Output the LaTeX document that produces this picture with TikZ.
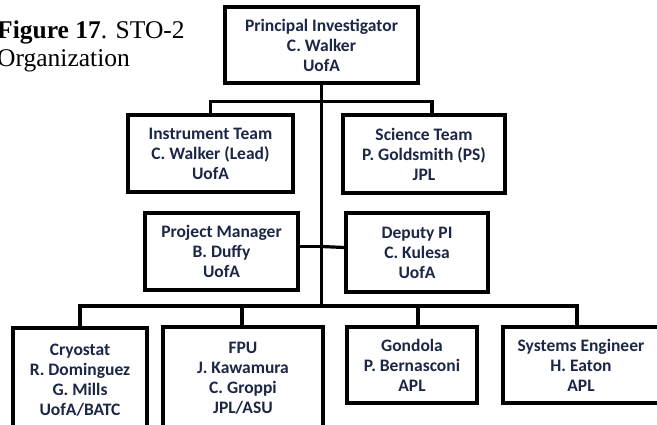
\documentclass[tikz,border=0pt]{standalone}
\usepackage{fontspec}
\newfontfamily\orgfont{Carlito}
\newfontfamily\capfont{Liberation Serif}
\definecolor{orgnavy}{RGB}{28,38,70}
\tikzset{
  orgbox/.style={draw, line width=3.6pt, fill=white, align=center, inner sep=0pt,
    text=orgnavy, font=\orgfont\bfseries\fontsize{17.5}{20}\selectfont},
  orgline/.style={line width=3.2pt},
  captext/.style={align=left, inner sep=0pt, font=\capfont\fontsize{25.5}{28}\selectfont},
}

\begin{document}
\begin{tikzpicture}[x=1pt,y=-1pt]
			\useasboundingbox (0,0) rectangle (657,425);
			\clip (0,0) rectangle (657,425);
			
			% Caption
			\node[captext, anchor=north west] (cap) at (-3,21) {\textbf{Figure 17}. STO-2\\Organization};
			
			% Top level
			\node[orgbox, minimum width=193, minimum height=76] (pi) at (321.5,45) {Principal Investigator\\C. Walker\\UofA};
			
			% Teams
			\node[orgbox, minimum width=165, minimum height=77] (inst) at (210.5,153.5) {Instrument Team\\C. Walker (Lead)\\UofA};
			\node[orgbox, minimum width=162, minimum height=78] (sci) at (424,154) {Science Team\\P. Goldsmith (PS)\\JPL};
			
			% Management
			\node[orgbox, minimum width=153, minimum height=77] (pm) at (221.5,251.5) {Project Manager\\B. Duffy\\UofA};
			\node[orgbox, minimum width=142, minimum height=79] (dep) at (417,252.5) {Deputy PI\\C. Kulesa\\UofA};
			
			% Subsystems (bottom row runs off the page)
			\node[orgbox, minimum width=134, minimum height=104] (cryo) at (80,380) {Cryostat\\R. Dominguez\\G. Mills\\UofA/BATC};
			\node[orgbox, minimum width=160, minimum height=102] (fpu) at (243,378) {FPU\\J. Kawamura\\C. Groppi\\JPL/ASU};
			\node[orgbox, minimum width=130, minimum height=76] (gon) at (412,365) {Gondola\\P. Bernasconi\\APL};
			\node[orgbox, minimum width=156, minimum height=76] (se) at (581,365) {Systems Engineer\\H. Eaton\\APL};
			
			% Connectors
			\coordinate (bus) at (321.5,306);
			\draw[orgline] (pi.south) -- (bus);
			\draw[orgline] (pi.south) -- ++(0,17) -| (inst.north);
			\draw[orgline] (pi.south) -- ++(0,17) -| ([xshift=8pt]sci.north);
			\draw[orgline] ([yshift=5pt]pm.east) -- ([yshift=5pt]pm.east -| bus);
			\draw[orgline] ([yshift=5pt]dep.west) -- ([yshift=5pt]pm.east -| bus);
			\draw[orgline] (bus) -| (cryo.north);
			\draw[orgline] (bus) -| ([xshift=-1pt]fpu.north);
			\draw[orgline] (bus) -| ([xshift=6pt]gon.north);
			\draw[orgline] (bus) -| ([xshift=-4pt]se.north);
		\end{tikzpicture}
\end{document}
